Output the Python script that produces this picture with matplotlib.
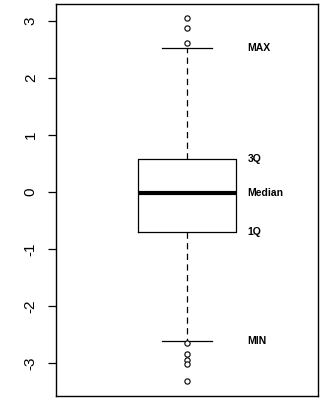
import matplotlib
matplotlib.use("Agg")
import matplotlib.pyplot as plt

# five-number summary of the sample
whisker_low = -2.61
q1 = -0.70
median = -0.02
q3 = 0.58
whisker_high = 2.53
outliers = [3.06, 2.88, 2.61, -2.65, -2.84, -2.95, -3.02, -3.31]

yticks = [-3, -2, -1, 0, 1, 2, 3]
annotations = ["MIN", "1Q", "Median", "3Q", "MAX"]
annotation_values = [whisker_low, q1, median, q3, whisker_high]

fig = plt.figure(figsize=(3.23, 4.00), dpi=100)
ax = fig.add_axes([0.173, 0.01, 0.812, 0.98])

stats = [dict(med=median, q1=q1, q3=q3, whislo=whisker_low,
              whishi=whisker_high, fliers=outliers)]
ax.bxp(stats, positions=[0.5], widths=0.37, showfliers=True,
       boxprops=dict(color="black", linewidth=0.9),
       medianprops=dict(color="black", linewidth=3.0, solid_capstyle="butt"),
       whiskerprops=dict(color="black", linewidth=0.9, linestyle=(0, (5, 3.5))),
       capprops=dict(color="black", linewidth=0.9),
       capwidths=0.19,
       flierprops=dict(marker="o", markersize=3.8, markerfacecolor="white",
                       markeredgecolor="black", markeredgewidth=0.8))

for label, val in zip(annotations, annotation_values):
    ax.text(0.73, val, label, ha="left", va="center", fontsize=7.5,
            fontweight="bold", family="Liberation Sans")

ax.set_xlim(0, 1)
ax.set_ylim(-3.58, 3.30)
ax.set_xticks([])
ax.set_yticks(yticks)
ax.set_yticklabels([str(t) for t in yticks], rotation=90, va="center",
                   fontsize=11, family="Liberation Sans")
ax.tick_params(axis="y", length=6, width=0.9, pad=7)
for spine in ax.spines.values():
    spine.set_linewidth(1.0)

fig.savefig("out.png", dpi=100)
